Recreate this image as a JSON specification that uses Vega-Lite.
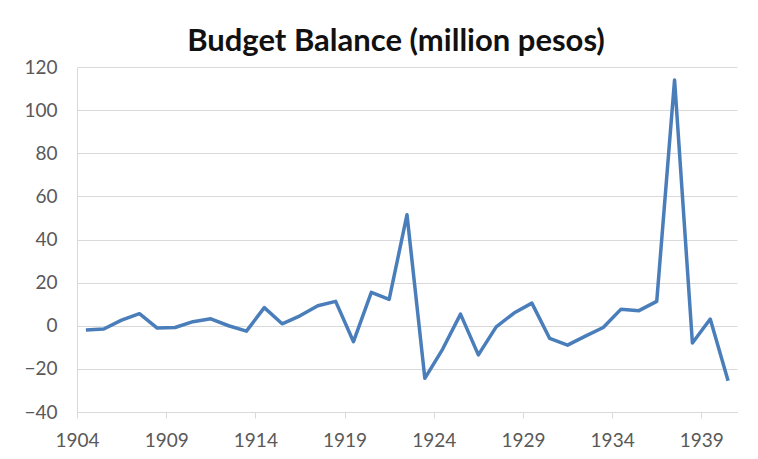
{
  "$schema": "https://vega.github.io/schema/vega-lite/v6.json",
  "autosize": "none",
  "width": 660,
  "height": 345,
  "padding": {"left": 77, "top": 67, "right": 21, "bottom": 47},
  "background": "white",
  "title": {
    "text": "Budget Balance (million pesos)",
    "font": "Lato",
    "fontSize": 31,
    "fontWeight": "bold",
    "color": "#111111",
    "baseline": "alphabetic",
    "offset": -24,
    "dx": -11
  },
  "config": {
    "view": {"stroke": null},
    "axis": {
      "labelFont": "Lato",
      "labelFontSize": 19,
      "labelColor": "#595959",
      "domainColor": "#d9d9d9",
      "gridColor": "#d9d9d9",
      "tickColor": "#d9d9d9",
      "title": null
    }
  },
  "data": {
    "values": [
      {"year": 1904, "balance": -2.0},
      {"year": 1905, "balance": -1.5},
      {"year": 1906, "balance": 2.6},
      {"year": 1907, "balance": 5.6},
      {"year": 1908, "balance": -1.1},
      {"year": 1909, "balance": -0.8},
      {"year": 1910, "balance": 1.9},
      {"year": 1911, "balance": 3.2},
      {"year": 1912, "balance": 0.0},
      {"year": 1913, "balance": -2.5},
      {"year": 1914, "balance": 8.4},
      {"year": 1915, "balance": 0.9},
      {"year": 1916, "balance": 4.6},
      {"year": 1917, "balance": 9.3},
      {"year": 1918, "balance": 11.3},
      {"year": 1919, "balance": -7.4},
      {"year": 1920, "balance": 15.5},
      {"year": 1921, "balance": 12.2},
      {"year": 1922, "balance": 51.5},
      {"year": 1923, "balance": -24.4},
      {"year": 1924, "balance": -10.8},
      {"year": 1925, "balance": 5.4},
      {"year": 1926, "balance": -13.5},
      {"year": 1927, "balance": -0.5},
      {"year": 1928, "balance": 5.9},
      {"year": 1929, "balance": 10.5},
      {"year": 1930, "balance": -5.9},
      {"year": 1931, "balance": -9.0},
      {"year": 1932, "balance": -4.8},
      {"year": 1933, "balance": -0.8},
      {"year": 1934, "balance": 7.7},
      {"year": 1935, "balance": 7.0},
      {"year": 1936, "balance": 11.3},
      {"year": 1937, "balance": 114.0},
      {"year": 1938, "balance": -8.0},
      {"year": 1939, "balance": 3.1},
      {"year": 1940, "balance": -25.5}
    ]
  },
  "mark": {"type": "line", "color": "#4a7ebb", "strokeWidth": 3.5, "strokeJoin": "round"},
  "encoding": {
    "x": {
      "field": "year",
      "type": "quantitative",
      "scale": {"domain": [1903.5, 1940.5], "nice": false, "zero": false},
      "axis": {
        "values": [1904, 1909, 1914, 1919, 1924, 1929, 1934, 1939],
        "format": "d",
        "grid": false,
        "ticks": true,
        "tickSize": 6,
        "tickOffset": -8.92,
        "labelPadding": 13,
        "labelFlush": false,
        "labelOverlap": false
      }
    },
    "y": {
      "field": "balance",
      "type": "quantitative",
      "scale": {"domain": [-40, 120], "nice": false, "zero": false},
      "axis": {
        "values": [-40, -20, 0, 20, 40, 60, 80, 100, 120],
        "grid": true,
        "ticks": false,
        "labelPadding": 20,
        "labelFlush": false,
        "labelOverlap": false
      }
    }
  }
}
